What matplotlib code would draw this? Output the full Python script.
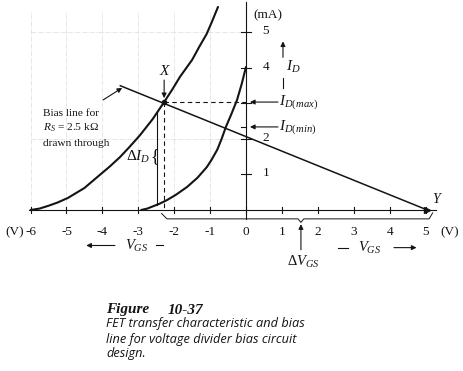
import matplotlib.pyplot as plt
import numpy as np

plt.rcParams['mathtext.fontset'] = 'custom'
plt.rcParams['mathtext.rm'] = 'Liberation Serif'
plt.rcParams['mathtext.it'] = 'Liberation Serif:italic'

# transfer characteristics (VGS in V, ID in mA)
vgs_max_curve = [-6.0, -5.75, -5.5, -5.25, -4.96, -4.5, -4.07, -3.8, -3.51, -3.25, -2.95,
                 -2.6, -2.28, -2.05, -1.84, -1.50, -1.3, -1.10, -0.95, -0.78]
id_max_curve = [0.0, 0.04, 0.12, 0.21, 0.34, 0.62, 0.99, 1.22, 1.49, 1.77, 2.11,
                2.56, 3.04, 3.40, 3.75, 4.23, 4.60, 4.95, 5.30, 5.72]
vgs_min_curve = [-2.92, -2.75, -2.60, -2.40, -2.20, -1.95, -1.64, -1.35, -1.09, -0.95,
                 -0.80, -0.68, -0.56, -0.40, -0.25, -0.12, 0.0]
id_min_curve = [0.0, 0.04, 0.10, 0.18, 0.28, 0.43, 0.65, 0.91, 1.21, 1.43,
                1.70, 2.00, 2.34, 2.72, 3.10, 3.55, 4.03]

# bias line for Rs = 2.5 kOhm
vgs_bias = [-3.5, 5.05]
id_bias = [3.5, 0.0]

# operating points
vgs_x, id_dmax = -2.28, 3.04
vgs_q2, id_dmin = -0.56, 2.34
vgs_span = [-2.48]  # vertical line between the two curves
id_span = [0.15, 2.75]

x_ticks = [-6, -5, -4, -3, -2, -1, 0, 1, 2, 3, 4, 5]
x_tick_labels = ['-6', '-5', '-4', '-3', '-2', '-1', '0', '1', '2', '3', '4', '5']
y_ticks = [1, 2, 3, 4, 5]
y_tick_labels = {1: '1', 2: '2', 4: '4', 5: '5'}

serif = ['Liberation Serif', 'DejaVu Serif']
cap_font = ['Liberation Sans Narrow', 'Open Sans', 'DejaVu Sans']
ink = '#141414'

fig = plt.figure(figsize=(4.64, 3.71), dpi=100)
ax = fig.add_axes([0, 0, 1, 1])
ax.set_xlim(-6.852, 6.072)
ax.set_ylim(-4.535, 5.915)
ax.set_axis_off()

# faint graph-paper grid
for gx in [-6, -5, -4, -3, -2, -1]:
    ax.plot([gx, gx], [0, 5.6], color='#dadada', lw=0.5, ls='-.', zorder=0)
for gy in [2, 5]:
    ax.plot([-6, 0], [gy, gy], color='#dadada', lw=0.5, ls='-.', zorder=0)

# axes
ax.plot([-6.05, 5.3], [0, 0], color=ink, lw=0.8)
ax.plot([0, 0], [-0.25, 5.85], color=ink, lw=0.8)
for t in x_ticks:
    ax.plot([t, t], [-0.08, 0.08], color=ink, lw=0.8)
for t in y_ticks:
    ax.plot([-0.14, 0.14], [t, t], color=ink, lw=0.8)

for t, lab in zip(x_ticks, x_tick_labels):
    ax.text(t, -0.62, lab, ha='center', va='center', family=serif, fontsize=9.5, color=ink)
ax.text(-6.43, -0.62, '(V)', ha='center', va='center', family=serif, fontsize=9.5, color=ink)
ax.text(5.68, -0.62, '(V)', ha='center', va='center', family=serif, fontsize=9.5, color=ink)
for t, lab in y_tick_labels.items():
    ax.text(0.55, t + 0.04, lab, ha='center', va='center', family=serif, fontsize=9.5, color=ink)
ax.text(0.61, 5.49, '(mA)', ha='center', va='center', family=serif, fontsize=9.5, color=ink)

# curves and bias line
ax.plot(vgs_max_curve, id_max_curve, color=ink, lw=1.5, solid_capstyle='round')
ax.plot(vgs_min_curve, id_min_curve, color=ink, lw=1.5, solid_capstyle='round')
ax.plot(vgs_bias, id_bias, color=ink, lw=1.1)
ax.plot([vgs_x], [id_dmax], 'o', color=ink, ms=3)
ax.plot([vgs_bias[1]], [id_bias[1]], '>', color=ink, ms=4)

# construction lines
ax.plot([vgs_x, 0], [id_dmax, id_dmax], color=ink, lw=0.8, ls=(0, (4, 3)))
ax.plot([vgs_x, vgs_x], [id_dmax, 0], color=ink, lw=0.8, ls=(0, (4, 3)))
ax.plot([-0.15, 0], [id_dmin, id_dmin], color=ink, lw=0.8)
ax.plot(vgs_span * 2, id_span, color=ink, lw=0.8)

# delta VGS bracket
ax.plot([-2.35, -2.2, 1.45, 1.53, 1.61, 5.1, 5.2],
        [-0.1, -0.25, -0.25, -0.35, -0.25, -0.25, -0.08], color=ink, lw=0.7)

arrow = dict(arrowstyle='-|>', color=ink, lw=0.8, mutation_scale=7, shrinkA=0, shrinkB=0)

# labels
ax.text(vgs_x, 3.89, 'X', ha='center', va='center', family=serif, style='italic', fontsize=11, color=ink)
ax.annotate('', xy=(vgs_x, 3.15), xytext=(vgs_x, 3.66), arrowprops=arrow)
ax.text(5.3, 0.3, 'Y', ha='center', va='center', family=serif, style='italic', fontsize=10, color=ink)

ax.annotate('', xy=(0.11, id_dmax), xytext=(0.89, id_dmax), arrowprops=arrow)
ax.text(0.92, id_dmax, r'$I_{D(max)}$', ha='left', va='center', fontsize=11, color=ink)
ax.annotate('', xy=(0.11, id_dmin), xytext=(0.89, id_dmin), arrowprops=arrow)
ax.text(0.92, id_dmin, r'$I_{D(min)}$', ha='left', va='center', fontsize=11, color=ink)

ax.annotate('', xy=(1.03, 4.75), xytext=(1.03, 4.3), arrowprops=arrow)
ax.text(1.12, 4.02, r'$I_D$', ha='left', va='center', fontsize=11, color=ink)
ax.plot([1.03, 1.03], [3.72, 3.44], color=ink, lw=0.8)

ax.text(-5.65, 2.73, 'Bias line for', ha='left', va='center', family=serif, fontsize=8.2, color=ink)
ax.text(-5.65, 2.31, r'$R_S$ = 2.5 k$\Omega$', ha='left', va='center', family=serif, fontsize=8.2, color=ink)
ax.text(-5.65, 1.86, 'drawn through', ha='left', va='center', family=serif, fontsize=8.2, color=ink)
ax.annotate('', xy=(-3.45, 3.44), xytext=(-3.98, 3.10), arrowprops=arrow)

ax.text(-2.65, 1.49, r'$\Delta I_D$', ha='right', va='center', fontsize=11, color=ink)
ax.text(-2.53, 1.49, '{', ha='center', va='center', family=serif, fontsize=13, color=ink)

ax.annotate('', xy=(1.53, -0.4), xytext=(1.53, -1.12), arrowprops=arrow)
ax.text(1.6, -1.46, r'$\Delta V_{GS}$', ha='center', va='center', fontsize=10.5, color=ink)

ax.annotate('', xy=(-4.45, -1.0), xytext=(-3.65, -1.0), arrowprops=arrow)
ax.text(-3.06, -1.02, r'$V_{GS}$', ha='center', va='center', fontsize=10.5, color=ink)
ax.plot([-2.5, -2.3], [-1.0, -1.0], color=ink, lw=0.8)
ax.plot([2.55, 2.85], [-1.06, -1.06], color=ink, lw=0.8)
ax.text(3.45, -1.08, r'$V_{GS}$', ha='center', va='center', fontsize=10.5, color=ink)
ax.annotate('', xy=(4.75, -1.06), xytext=(4.12, -1.06), arrowprops=arrow)

# caption
fig.text(106 / 464, 1 - 310 / 371, 'Figure', ha='left', va='center',
         family=serif, style='italic', weight='bold', fontsize=11, color=ink)
fig.text(168 / 464, 1 - 310 / 371, '10-37', ha='left', va='center',
         family=serif, style='italic', weight='bold', fontsize=11, color=ink)
caption = ['FET transfer characteristic and bias',
           'line for voltage divider bias circuit',
           'design.']
for i, line in enumerate(caption):
    fig.text(106 / 464, 1 - (324 + 15 * i) / 371, line, ha='left', va='center',
             family=cap_font, style='italic', fontsize=9.2, color=ink)

fig.savefig('out.png', dpi=100, facecolor='white')
